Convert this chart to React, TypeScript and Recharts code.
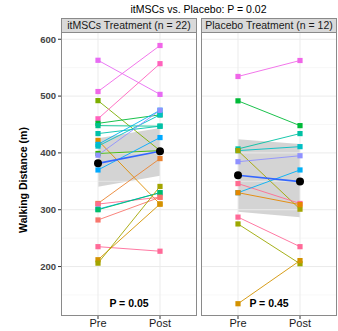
import { Area, ComposedChart, Line, ReferenceLine, XAxis, YAxis } from "recharts";

const phases = ["Pre", "Post"];
const yTicks = [200, 300, 400, 500, 600];
const minorTicks = [150, 250, 350, 450, 550];

// itMSCs treatment subjects (pre -> post)
const itmscPre = [563, 508, 492, 460, 452, 448, 434, 422, 415, 412, 399, 396, 370, 311, 310, 301, 300, 282, 235, 212, 206];
const itmscPost = [503, 589, 404, 557, 467, 447, 447, 310, 475, 467, 404, 475, 427, 390, 322, 330, 330, 322, 227, 310, 341];
const itmscColors = [
  "#E76BF3", "#F066E8", "#7CAE00", "#FF62BC", "#00BA38", "#00C08B", "#00C1A9",
  "#DE8C00", "#00B4EF", "#00BFC4", "#39B600", "#8F91FF", "#00A9FF", "#EA8331",
  "#FF6C91", "#00B0F6", "#00BE67", "#F8766D", "#FF6A98", "#D39200", "#A3A500",
];
const itmscMean = [381.6, 403];
const itmscLow = [340.6, 360];
const itmscHigh = [426, 444];

// placebo subjects
const placeboPre = [534.5, 491.6, 407, 404, 404, 384.5, 346, 330, 330, 287, 275, 134.6];
const placeboPost = [562.6, 448, 434, 411, 301, 395, 311, 370, 309, 235, 205, 210.5];
const placeboColors = [
  "#F066E8", "#00BA38", "#00C1A3", "#00BFC4", "#A3A500", "#8F91FF",
  "#FF6C91", "#00B0F6", "#E58700", "#FF6A98", "#9CA700", "#D39200",
];
const placeboMean = [360.6, 349.5];
const placeboLow = [296.5, 286.7];
const placeboHigh = [424, 415.6];

const FONT = "'Liberation Sans', Arial, Helvetica, sans-serif";
const BORDER = "#8a8a8a";

function buildRows(pre: number[], post: number[], mean: number[], low: number[], high: number[]) {
  return phases.map((phase, i) => {
    const row: Record<string, any> = { phase, mean: mean[i], band: [low[i], high[i]] };
    pre.forEach((v, k) => {
      row[`s${k}`] = i === 0 ? v : post[k];
    });
    return row;
  });
}

function Square(props: any, color: string, id: string) {
  const { cx, cy, index } = props;
  return <rect key={`${id}-${index}`} x={cx - 2.6} y={cy - 2.6} width={5.2} height={5.2} fill={color} />;
}

interface PanelProps {
  rows: Record<string, any>[];
  colors: string[];
  showY: boolean;
  width: number;
  yWidth: number;
}

function Panel({ rows, colors, showY, width, yWidth }: PanelProps) {
  return (
    <ComposedChart width={width} height={331} data={rows} margin={{ top: 33, right: 0, bottom: 0, left: 0 }}>
      {minorTicks.map((v) => (
        <ReferenceLine key={`m${v}`} y={v} stroke="#F2F2F2" strokeWidth={0.6} />
      ))}
      {yTicks.map((v) => (
        <ReferenceLine key={`M${v}`} y={v} stroke="#EBEBEB" strokeWidth={1} />
      ))}
      {phases.map((p) => (
        <ReferenceLine key={`v${p}`} x={p} stroke="#EBEBEB" strokeWidth={1} />
      ))}
      <XAxis
        dataKey="phase"
        height={15}
        padding={{ left: 37, right: 37 }}
        axisLine={false}
        tickLine={{ stroke: "#333" }}
        tickSize={3}
        tickMargin={0}
        tick={{ fontSize: 11, fill: "#1a1a1a", fontFamily: FONT }}
      />
      <YAxis
        hide={!showY}
        width={yWidth}
        domain={[113, 611]}
        ticks={yTicks}
        allowDataOverflow
        axisLine={false}
        tickLine={{ stroke: "#333" }}
        tickSize={3}
        tickMargin={2}
        tick={{ fontSize: 9.5, fill: "#444", fontWeight: "bold", fontFamily: FONT }}
        label={{
          content: () => (
            <text
              x={23}
              y={180}
              transform="rotate(-90 23 180)"
              textAnchor="middle"
              dominantBaseline="central"
              fontSize={10.5}
              fontWeight="bold"
              fontFamily={FONT}
              fill="#000"
            >
              Walking Distance (m)
            </text>
          ),
        }}
      />
      <Area
        dataKey="band"
        stroke="none"
        fill="#999999"
        fillOpacity={0.42}
        isAnimationActive={false}
        dot={false}
        activeDot={false}
      />
      {colors.map((c, k) => (
        <Line
          key={`l${k}`}
          dataKey={`s${k}`}
          stroke={c}
          strokeWidth={0.9}
          dot={false}
          activeDot={false}
          isAnimationActive={false}
        />
      ))}
      {colors.map((c, k) => (
        <Line
          key={`p${k}`}
          dataKey={`s${k}`}
          stroke={c}
          strokeOpacity={0}
          dot={(props: any) => Square(props, c, `p${k}`)}
          activeDot={false}
          isAnimationActive={false}
        />
      ))}
      <Line
        dataKey="mean"
        stroke="#3366FF"
        strokeWidth={1.6}
        dot={{ r: 4, fill: "#000", stroke: "#000", strokeWidth: 0 }}
        activeDot={false}
        isAnimationActive={false}
      />
    </ComposedChart>
  );
}

const frame = (left: number, label: string, pText: string) => (
  <>
    <div
      style={{
        position: "absolute",
        left,
        top: 18,
        width: 136,
        height: 15,
        boxSizing: "border-box",
        background: "#D9D9D9",
        border: `1px solid ${BORDER}`,
        fontSize: 10.5,
        lineHeight: "13px",
        textAlign: "center",
        color: "#1a1a1a",
        fontFamily: FONT,
      }}
    >
      {label}
    </div>
    <div
      style={{
        position: "absolute",
        left,
        top: 33,
        width: 136,
        height: 283,
        boxSizing: "border-box",
        border: `1px solid ${BORDER}`,
        borderTop: "none",
        pointerEvents: "none",
      }}
    />
    <div
      style={{
        position: "absolute",
        left,
        top: 297,
        width: 136,
        textAlign: "center",
        fontSize: 10.5,
        fontWeight: "bold",
        fontFamily: FONT,
        color: "#000",
      }}
    >
      {pText}
    </div>
  </>
);

export default function App() {
  const leftRows = buildRows(itmscPre, itmscPost, itmscMean, itmscLow, itmscHigh);
  const rightRows = buildRows(placeboPre, placeboPost, placeboMean, placeboLow, placeboHigh);
  return (
    <div style={{ position: "absolute", left: 0, top: 0, width: 338, height: 331, background: "#fff", fontFamily: FONT }}>
      <div style={{ position: "absolute", left: 0, top: 0 }}>
        <Panel rows={leftRows} colors={itmscColors} showY width={197} yWidth={61} />
      </div>
      <div style={{ position: "absolute", left: 201, top: 0 }}>
        <Panel rows={rightRows} colors={placeboColors} showY={false} width={136} yWidth={0} />
      </div>
      <div
        style={{
          position: "absolute",
          left: 60,
          top: 3,
          width: 277,
          textAlign: "center",
          fontSize: 10.5,
          color: "#000",
          fontFamily: FONT,
        }}
      >
        itMSCs vs. Placebo: P = 0.02
      </div>
      {frame(61, "itMSCs Treatment (n = 22)", "P = 0.05")}
      {frame(201, "Placebo Treatment (n = 12)", "P = 0.45")}
    </div>
  );
}
